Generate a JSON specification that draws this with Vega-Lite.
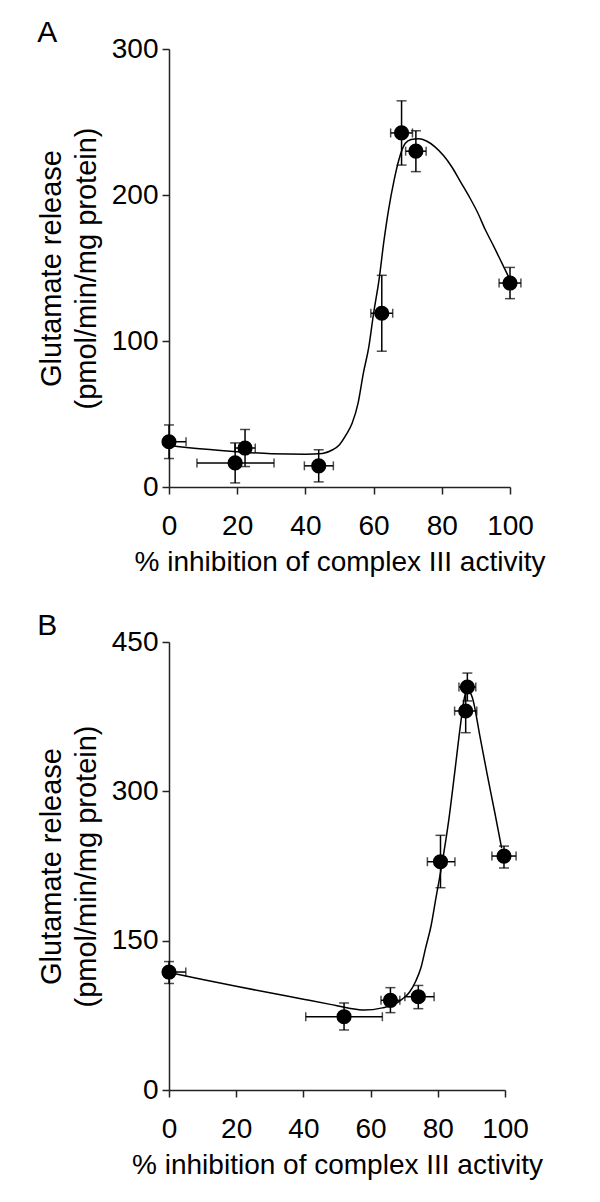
{
  "$schema": "https://vega.github.io/schema/vega-lite/v6.json",
  "background": "white",
  "padding": {"left": 37, "top": 18, "right": 5, "bottom": 5},
  "spacing": 35,
  "config": {
    "view": {"stroke": null},
    "font": "Liberation Sans",
    "axis": {
      "grid": false,
      "domainColor": "#222",
      "domainWidth": 1.5,
      "tickColor": "#222",
      "tickWidth": 1.5,
      "tickSize": 7,
      "labelFontSize": 28,
      "labelColor": "black",
      "labelFlush": false,
      "labelOverlap": false,
      "titleFontSize": 28,
      "titleColor": "black",
      "titleFontWeight": "normal",
      "labelFont": "Liberation Sans",
      "titleFont": "Liberation Sans"
    },
    "axisX": {"labelPadding": 18, "titlePadding": 8},
    "axisY": {"labelPadding": 4, "titlePadding": 10, "titleLineHeight": 35, "titleFontSize": 29},
    "title": {"fontSize": 30, "fontWeight": "normal", "font": "Liberation Sans", "anchor": "start", "frame": "bounds", "color": "black"}
  },
  "datasets": {
    "ptsA": [
      {"x": 0, "y": 31, "xlo": 0, "xhi": 5, "ylo": 19.5, "yhi": 42.5},
      {"x": 19.4, "y": 16.5, "xlo": 8.2, "xhi": 30.8, "ylo": 2.8, "yhi": 30.2},
      {"x": 22.3, "y": 26.7, "xlo": 19.3, "xhi": 25.3, "ylo": 14, "yhi": 39.4},
      {"x": 43.9, "y": 14.5, "xlo": 39.7, "xhi": 48.2, "ylo": 3.5, "yhi": 25.5},
      {"x": 62.4, "y": 119, "xlo": 59.2, "xhi": 65.6, "ylo": 93, "yhi": 145},
      {"x": 68.2, "y": 242.5, "xlo": 65, "xhi": 71.4, "ylo": 220.5, "yhi": 264.5},
      {"x": 72.4, "y": 230, "xlo": 69.4, "xhi": 75.4, "ylo": 216, "yhi": 244},
      {"x": 100, "y": 139.7, "xlo": 96.8, "xhi": 103.2, "ylo": 129, "yhi": 150.4}
    ],
    "curveA": [
      {"x": 0, "y": 28.5}, {"x": 10, "y": 26}, {"x": 20, "y": 24.2}, {"x": 30, "y": 22.8},
      {"x": 40, "y": 22.5}, {"x": 45, "y": 23}, {"x": 48, "y": 25.5}, {"x": 50, "y": 29},
      {"x": 52, "y": 36}, {"x": 53.7, "y": 43.6}, {"x": 55.5, "y": 58}, {"x": 57, "y": 78},
      {"x": 58.6, "y": 96}, {"x": 60, "y": 119}, {"x": 61.6, "y": 142}, {"x": 63, "y": 168},
      {"x": 64.4, "y": 190}, {"x": 66, "y": 210}, {"x": 67.4, "y": 224}, {"x": 69.3, "y": 235.4},
      {"x": 71, "y": 238}, {"x": 73.2, "y": 238.5}, {"x": 75.5, "y": 237}, {"x": 78, "y": 233},
      {"x": 80.5, "y": 227}, {"x": 83, "y": 219}, {"x": 85.5, "y": 209}, {"x": 88, "y": 199},
      {"x": 90.5, "y": 188}, {"x": 92.8, "y": 176}, {"x": 95.2, "y": 165}, {"x": 97.7, "y": 153},
      {"x": 100, "y": 142}
    ],
    "ptsB": [
      {"x": 0, "y": 118.5, "xlo": 0, "xhi": 5, "ylo": 107, "yhi": 129},
      {"x": 52.1, "y": 73.6, "xlo": 40.7, "xhi": 63.5, "ylo": 60.3, "yhi": 87.4},
      {"x": 65.9, "y": 90.1, "xlo": 63.1, "xhi": 68.7, "ylo": 77.7, "yhi": 102.8},
      {"x": 74.2, "y": 93.7, "xlo": 70.2, "xhi": 78.9, "ylo": 81.7, "yhi": 105},
      {"x": 80.8, "y": 229.3, "xlo": 76.9, "xhi": 85.1, "ylo": 203.2, "yhi": 255.8},
      {"x": 88.8, "y": 404.8, "xlo": 86.3, "xhi": 91.3, "ylo": 390.8, "yhi": 418.8},
      {"x": 88.3, "y": 380.7, "xlo": 85, "xhi": 91.6, "ylo": 358.9, "yhi": 402.5},
      {"x": 99.7, "y": 235, "xlo": 96.1, "xhi": 103.3, "ylo": 223, "yhi": 245}
    ],
    "curveB": [
      {"x": 0, "y": 118}, {"x": 10, "y": 111}, {"x": 20, "y": 104.2}, {"x": 30, "y": 97.6},
      {"x": 40, "y": 91.2}, {"x": 48, "y": 86}, {"x": 53.6, "y": 82.2},
      {"x": 58, "y": 80.3}, {"x": 63.5, "y": 82.5}, {"x": 67, "y": 86}, {"x": 69.3, "y": 91},
      {"x": 71.5, "y": 98}, {"x": 73.4, "y": 109}, {"x": 75, "y": 123}, {"x": 76.4, "y": 143},
      {"x": 78, "y": 165}, {"x": 79.4, "y": 192}, {"x": 81, "y": 222}, {"x": 83.3, "y": 272},
      {"x": 85, "y": 318}, {"x": 86.8, "y": 368}, {"x": 87.8, "y": 392}, {"x": 88.7, "y": 402},
      {"x": 89.5, "y": 400}, {"x": 90.3, "y": 394}, {"x": 92.5, "y": 356}, {"x": 94.7, "y": 317},
      {"x": 97, "y": 278}, {"x": 99, "y": 243}
    ]
  },
  "vconcat": [
    {
      "title": {"text": "A", "offset": -13},
      "width": 341,
      "height": 438,
      "layer": [
        {
          "data": {"name": "curveA"},
          "mark": {"type": "line", "interpolate": "monotone", "color": "black", "strokeWidth": 1.5},
          "encoding": {
            "x": {"field": "x", "type": "quantitative", "scale": {"domain": [0, 100], "nice": false}, "axis": {"title": "% inhibition of complex III activity", "values": [0, 20, 40, 60, 80, 100]}},
            "y": {"field": "y", "type": "quantitative", "scale": {"domain": [0, 300], "nice": false}, "axis": {"title": ["Glutamate release", "(pmol/min/mg protein)"], "values": [0, 100, 200, 300]}}
          }
        },
        {
          "data": {"name": "ptsA"},
          "mark": {"type": "rule", "color": "black", "strokeWidth": 1.5},
          "encoding": {
            "x": {"field": "x", "type": "quantitative"},
            "y": {"field": "ylo", "type": "quantitative"},
            "y2": {"field": "yhi"}
          }
        },
        {
          "data": {"name": "ptsA"},
          "mark": {"type": "rule", "color": "black", "strokeWidth": 1.5},
          "encoding": {
            "x": {"field": "xlo", "type": "quantitative"},
            "x2": {"field": "xhi"},
            "y": {"field": "y", "type": "quantitative"}
          }
        },
        {
          "data": {"name": "ptsA"},
          "mark": {"type": "tick", "orient": "horizontal", "color": "black", "size": 10, "thickness": 1.5},
          "encoding": {
            "x": {"field": "x", "type": "quantitative"},
            "y": {"field": "ylo", "type": "quantitative"}
          }
        },
        {
          "data": {"name": "ptsA"},
          "mark": {"type": "tick", "orient": "horizontal", "color": "black", "size": 10, "thickness": 1.5},
          "encoding": {
            "x": {"field": "x", "type": "quantitative"},
            "y": {"field": "yhi", "type": "quantitative"}
          }
        },
        {
          "data": {"name": "ptsA"},
          "mark": {"type": "tick", "orient": "vertical", "color": "black", "size": 9, "thickness": 1.5},
          "encoding": {
            "x": {"field": "xlo", "type": "quantitative"},
            "y": {"field": "y", "type": "quantitative"}
          }
        },
        {
          "data": {"name": "ptsA"},
          "mark": {"type": "tick", "orient": "vertical", "color": "black", "size": 9, "thickness": 1.5},
          "encoding": {
            "x": {"field": "xhi", "type": "quantitative"},
            "y": {"field": "y", "type": "quantitative"}
          }
        },
        {
          "data": {"name": "ptsA"},
          "mark": {"type": "point", "shape": "circle", "filled": true, "color": "black", "opacity": 1, "size": 230},
          "encoding": {
            "x": {"field": "x", "type": "quantitative"},
            "y": {"field": "y", "type": "quantitative"}
          }
        }
      ]
    },
    {
      "title": {"text": "B", "offset": -13},
      "width": 336,
      "height": 448,
      "layer": [
        {
          "data": {"name": "curveB"},
          "mark": {"type": "line", "interpolate": "monotone", "color": "black", "strokeWidth": 1.5},
          "encoding": {
            "x": {"field": "x", "type": "quantitative", "scale": {"domain": [0, 100], "nice": false}, "axis": {"title": "% inhibition of complex III activity", "values": [0, 20, 40, 60, 80, 100]}},
            "y": {"field": "y", "type": "quantitative", "scale": {"domain": [0, 450], "nice": false}, "axis": {"title": ["Glutamate release", "(pmol/min/mg protein)"], "values": [0, 150, 300, 450]}}
          }
        },
        {
          "data": {"name": "ptsB"},
          "mark": {"type": "rule", "color": "black", "strokeWidth": 1.5},
          "encoding": {
            "x": {"field": "x", "type": "quantitative"},
            "y": {"field": "ylo", "type": "quantitative"},
            "y2": {"field": "yhi"}
          }
        },
        {
          "data": {"name": "ptsB"},
          "mark": {"type": "rule", "color": "black", "strokeWidth": 1.5},
          "encoding": {
            "x": {"field": "xlo", "type": "quantitative"},
            "x2": {"field": "xhi"},
            "y": {"field": "y", "type": "quantitative"}
          }
        },
        {
          "data": {"name": "ptsB"},
          "mark": {"type": "tick", "orient": "horizontal", "color": "black", "size": 10, "thickness": 1.5},
          "encoding": {
            "x": {"field": "x", "type": "quantitative"},
            "y": {"field": "ylo", "type": "quantitative"}
          }
        },
        {
          "data": {"name": "ptsB"},
          "mark": {"type": "tick", "orient": "horizontal", "color": "black", "size": 10, "thickness": 1.5},
          "encoding": {
            "x": {"field": "x", "type": "quantitative"},
            "y": {"field": "yhi", "type": "quantitative"}
          }
        },
        {
          "data": {"name": "ptsB"},
          "mark": {"type": "tick", "orient": "vertical", "color": "black", "size": 9, "thickness": 1.5},
          "encoding": {
            "x": {"field": "xlo", "type": "quantitative"},
            "y": {"field": "y", "type": "quantitative"}
          }
        },
        {
          "data": {"name": "ptsB"},
          "mark": {"type": "tick", "orient": "vertical", "color": "black", "size": 9, "thickness": 1.5},
          "encoding": {
            "x": {"field": "xhi", "type": "quantitative"},
            "y": {"field": "y", "type": "quantitative"}
          }
        },
        {
          "data": {"name": "ptsB"},
          "mark": {"type": "point", "shape": "circle", "filled": true, "color": "black", "opacity": 1, "size": 230},
          "encoding": {
            "x": {"field": "x", "type": "quantitative"},
            "y": {"field": "y", "type": "quantitative"}
          }
        }
      ]
    }
  ]
}
